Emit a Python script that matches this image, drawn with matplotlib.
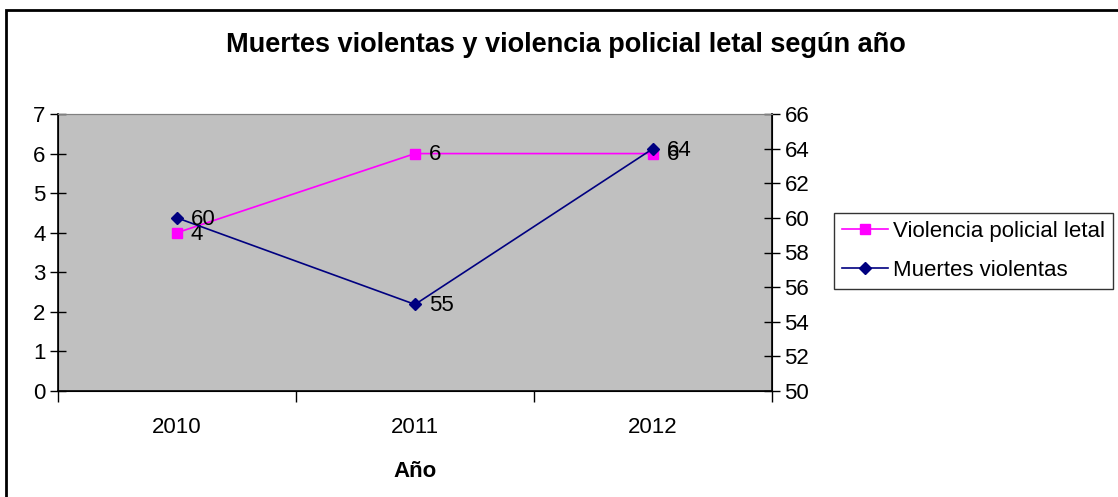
import matplotlib.pyplot as plt
from matplotlib.patches import Rectangle

plt.rcParams['font.family'] = ['Liberation Sans', 'DejaVu Sans']

# datos
anios = ['2010', '2011', '2012']
violencia_policial = [4, 6, 6]
muertes_violentas = [60, 55, 64]

fig = plt.figure(figsize=(11.18, 4.97), dpi=100)
ax = fig.add_axes([58 / 1118, 1 - 391 / 497, (772 - 58) / 1118, (391 - 114) / 497])
ax2 = ax.twinx()

x = list(range(len(anios)))

# eje izquierdo: violencia policial letal
l1, = ax.plot(x, violencia_policial, color='#FF00FF', marker='s', markersize=7,
              linewidth=1.2, label='Violencia policial letal', zorder=3)
for xi, v in zip(x, violencia_policial):
    ax.annotate(str(v), (xi, v), xytext=(10, -1), textcoords='offset points',
                va='center', ha='left', fontsize=16)

# eje derecho: muertes violentas
l2, = ax2.plot(x, muertes_violentas, color='#000080', marker='D', markersize=6,
               linewidth=1.2, label='Muertes violentas', zorder=3)
for xi, v in zip(x, muertes_violentas):
    ax2.annotate(str(v), (xi, v), xytext=(10, -1), textcoords='offset points',
                 va='center', ha='left', fontsize=16)

ax.set_facecolor('#C0C0C0')
ax.set_xlim(-0.5, 2.5)
ax.set_ylim(0, 7)
ax.set_yticks(range(0, 8))
ax2.set_ylim(50, 66)
ax2.set_yticks(range(50, 67, 2))

# ticks del eje de categorias en los limites
ax.set_xticks([-0.5, 0.5, 1.5, 2.5])
ax.set_xticklabels([])
ax.set_xticks(x, minor=True)
ax.set_xticklabels(anios, minor=True, fontsize=16)
ax.tick_params(axis='x', which='major', direction='out', length=8, width=1)
ax.tick_params(axis='x', which='minor', length=0, pad=19)
ax.tick_params(axis='y', direction='inout', length=12, width=1, labelsize=16, pad=3)
ax2.tick_params(axis='y', direction='inout', length=12, width=1, labelsize=16, pad=3)

ax.spines['top'].set_color('#808080')
ax2.spines['top'].set_color('#808080')
ax.spines['left'].set_linewidth(1.2)
ax.spines['bottom'].set_linewidth(1.2)
ax2.spines['right'].set_linewidth(1.2)

ax.set_xlabel('Año', fontsize=16, fontweight='bold', labelpad=16)
fig.text(566 / 1118, 1 - 45 / 497, 'Muertes violentas y violencia policial letal según año',
         ha='center', va='center', fontsize=19.5, fontweight='bold')

leg = fig.legend(handles=[l1, l2], loc='center left',
                 bbox_to_anchor=(834 / 1118, 1 - 251 / 497), fontsize=16,
                 frameon=True, fancybox=False, edgecolor='black', handlelength=2.1,
                 borderpad=0.35, labelspacing=0.8, handletextpad=0.2, borderaxespad=0)
leg.get_frame().set_linewidth(1)

# borde exterior
fig.patches.append(Rectangle((6 / 1118, -10 / 497), 1130 / 1118, 497 / 497,
                             transform=fig.transFigure, fill=False,
                             edgecolor='black', linewidth=2))

fig.savefig('out.png', dpi=100)
